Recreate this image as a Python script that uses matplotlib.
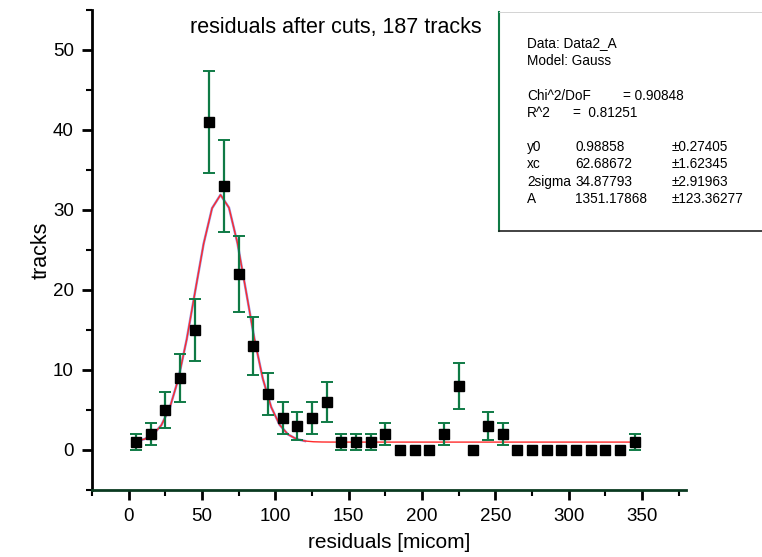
import numpy as np
import matplotlib
matplotlib.use("Agg")
import matplotlib.pyplot as plt
from matplotlib.lines import Line2D

plt.rcParams['font.family'] = ['Liberation Sans', 'DejaVu Sans']

# histogram of residuals (bin centres, counts)
residuals = [5, 15, 25, 35, 45, 55, 65, 75, 85, 95, 105, 115, 125, 135, 145, 155,
             165, 175, 185, 195, 205, 215, 225, 235, 245, 255, 265, 275, 285, 295,
             305, 315, 325, 335, 345]
tracks = [1, 2, 5, 9, 15, 41, 33, 22, 13, 7, 4, 3, 4, 6, 1, 1,
          1, 2, 0, 0, 0, 2, 8, 0, 3, 2, 0, 0, 0, 0,
          0, 0, 0, 0, 1]

# gauss fit result
y0 = 0.98858
xc = 62.68672
w = 34.87793
A = 1351.17868

fit_lines = [
    ("Data: Data2_A", "", ""),
    ("Model: Gauss", "", ""),
    ("", "", ""),
    ("Chi^2/DoF", "= 0.90848", ""),
    ("R^2", "=  0.81251", ""),
    ("", "", ""),
    ("y0", "0.98858", "\u00b10.27405"),
    ("xc", "62.68672", "\u00b11.62345"),
    ("2sigma", "34.87793", "\u00b12.91963"),
    ("A", "1351.17868", "\u00b1123.36277"),
]
line_y = [43, 61, 0, 96, 113, 0, 147, 164, 182, 199]

green = '#0f7a45'

x = np.array(residuals, dtype=float)
y = np.array(tracks, dtype=float)
err = np.sqrt(y)

def gauss(t):
    return y0 + A / (w * np.sqrt(np.pi / 2)) * np.exp(-2 * (t - xc) ** 2 / w ** 2)

fig = plt.figure(figsize=(7.62, 5.57), dpi=100)
ax = fig.add_axes([92 / 762, 1 - 490 / 557, (686 - 92) / 762, (490 - 10) / 557])

xf = np.linspace(5, 345, 60)
xb = xf[xf <= 125]
ax.plot(xb, gauss(xb), color='#6a6ad8', lw=1.8, alpha=0.7, zorder=2)
ax.plot(xf, gauss(xf), color='#ff2a2a', lw=1.0, zorder=3)

m = y > 0
ax.errorbar(x[m], y[m], yerr=err[m], fmt='none', ecolor=green, elinewidth=1.6,
            capsize=4, capthick=1.4, zorder=4)
ax.plot(x, y, 's', color='black', ms=7, zorder=5)

ax.set_xlim(-25, 380)
ax.set_ylim(-5, 55)
ax.set_xticks(np.arange(0, 351, 50))
ax.set_xticks(np.arange(-25, 380, 25), minor=True)
ax.set_yticks(np.arange(0, 51, 10))
ax.set_yticks(np.arange(-5, 56, 5), minor=True)
for s in ['top', 'right']:
    ax.spines[s].set_visible(False)
for s in ['left', 'bottom']:
    ax.spines[s].set_linewidth(2)
ax.spines['bottom'].set_color('#0a3a20')
ax.tick_params(which='major', direction='out', length=7, width=2, labelsize=13.5, pad=6)
ax.tick_params(which='minor', direction='out', length=4, width=1.5)

ax.set_xlabel('residuals [micom]', fontsize=15, labelpad=6)
ax.set_ylabel('tracks', fontsize=15.5, labelpad=1)
fig.text(190 / 762, 1 - 28 / 557, 'residuals after cuts, 187 tracks', fontsize=15.5,
         va='center', ha='left')

# fit results box
fig.add_artist(Line2D([499 / 762, 499 / 762], [1 - 12 / 557, 1 - 231 / 557],
                      color=green, lw=1.5))
fig.add_artist(Line2D([499 / 762, 1.0], [1 - 231 / 557, 1 - 231 / 557],
                      color='#222222', lw=1.2))
fig.add_artist(Line2D([499 / 762, 1.0], [1 - 12 / 557, 1 - 12 / 557],
                      color='#cccccc', lw=0.6))

for (a, b, c), py in zip(fit_lines, line_y):
    if not a:
        continue
    yy = 1 - py / 557
    fig.text(527 / 762, yy, a, fontsize=9.8, va='center')
    if b:
        bx = 623 if a == "Chi^2/DoF" else (573 if a == "R^2" else 575)
        fig.text(bx / 762, yy, b, fontsize=9.8, va='center')
    if c:
        fig.text(672 / 762, yy, c, fontsize=9.8, va='center')

fig.savefig('out.png', dpi=100)
